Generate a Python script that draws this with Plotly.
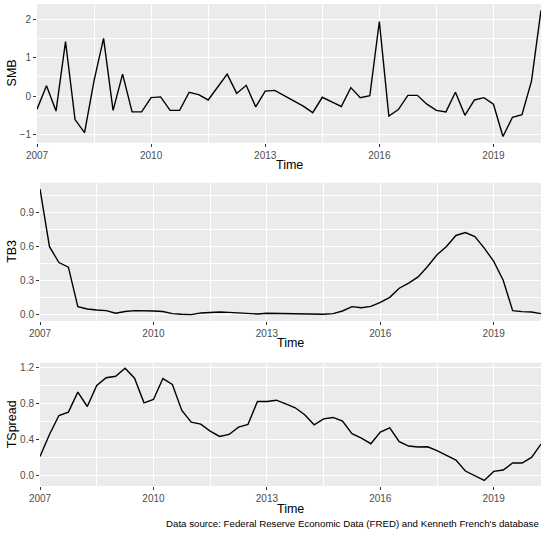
import plotly.graph_objects as go

# Quarterly series, 2007 Q1 to 2020 Q2
start_year = 2007
n_quarters = 54
time = [start_year + i / 4 for i in range(n_quarters)]

smb = [-0.34, 0.27, -0.39, 1.42, -0.61, -0.95, 0.40, 1.50, -0.37, 0.57,
       -0.41, -0.41, -0.04, -0.02, -0.37, -0.37, 0.10, 0.04, -0.10, 0.24,
       0.57, 0.07, 0.28, -0.28, 0.13, 0.15, 0.02, -0.13, -0.26, -0.43,
       -0.03, -0.15, -0.27, 0.22, -0.04, 0.01, 1.94, -0.52, -0.35, 0.02,
       0.02, -0.21, -0.37, -0.41, 0.10, -0.50, -0.10, -0.04, -0.21, -1.05,
       -0.55, -0.48, 0.39, 2.23]

tb3 = [1.105, 0.60, 0.46, 0.42, 0.073, 0.053, 0.044, 0.038, 0.015, 0.030,
       0.038, 0.038, 0.035, 0.030, 0.012, 0.006, 0.003, 0.018, 0.023, 0.026,
       0.023, 0.020, 0.012, 0.009, 0.015, 0.014, 0.012, 0.006, 0.006, 0.006,
       0.006, 0.012, 0.035, 0.073, 0.064, 0.076, 0.111, 0.155, 0.235, 0.279,
       0.334, 0.425, 0.528, 0.601, 0.698, 0.724, 0.689, 0.587, 0.470, 0.305,
       0.038, 0.029, 0.026, 0.012]

tspread = [0.215, 0.459, 0.670, 0.707, 0.930, 0.770, 1.004, 1.090, 1.107, 1.196,
           1.085, 0.811, 0.848, 1.081, 1.015, 0.726, 0.596, 0.574, 0.496, 0.437,
           0.459, 0.540, 0.570, 0.826, 0.826, 0.840, 0.800, 0.756, 0.678, 0.567,
           0.633, 0.648, 0.607, 0.467, 0.419, 0.356, 0.485, 0.533, 0.378, 0.330,
           0.319, 0.322, 0.278, 0.222, 0.174, 0.052, -0.004, -0.052, 0.048, 0.063,
           0.141, 0.141, 0.204, 0.352]

x_ticks = [2007, 2010, 2013, 2016, 2019]
x_minor = [2008.5, 2011.5, 2014.5, 2017.5]

# name, values, y ticks, y tick labels, y minor grid, y domain, x domain start, "Time" label y
panels = [
    ("SMB", smb, [-1, 0, 1, 2], ["\u22121", "0", "1", "2"], [-0.5, 0.5, 1.5], [0.712, 1.0], 0.0, 0.666),
    ("TB3", tb3, [0, 0.3, 0.6, 0.9], ["0.0", "0.3", "0.6", "0.9"], [0.15, 0.45, 0.75, 1.05], [0.3425, 0.629], 0.006, 0.297),
    ("TSpread", tspread, [0, 0.4, 0.8, 1.2], ["0.0", "0.4", "0.8", "1.2"], [0.2, 0.6, 1.0], [0.0, 0.256], 0.006, -0.048),
]

font = "Liberation Sans, Arial, sans-serif"
fig = go.Figure()
annotations = []

for i, (name, vals, yt, ytl, ym, ydom, xstart, time_y) in enumerate(panels, start=1):
    xa = "x" if i == 1 else f"x{i}"
    ya = "y" if i == 1 else f"y{i}"
    fig.add_trace(go.Scatter(x=time, y=vals, mode="lines", xaxis=xa, yaxis=ya,
                             line=dict(color="black", width=1.4), showlegend=False))

    lo, hi = min(vals), max(vals)
    pad = (hi - lo) * 0.05
    fig.update_layout(**{
        ("xaxis" if i == 1 else f"xaxis{i}"): dict(
            domain=[xstart, 1], anchor=ya, range=[time[0], time[-1]],
            tickvals=x_ticks, ticktext=[str(t) for t in x_ticks],
            ticks="outside", ticklen=3, tickcolor="#333333",
            tickfont=dict(size=10, color="#4D4D4D", family=font),
            showgrid=True, gridcolor="white", gridwidth=1.1, zeroline=False,
            minor=dict(tickvals=x_minor, showgrid=True, gridcolor="white", gridwidth=0.5, ticks=""),
        ),
        ("yaxis" if i == 1 else f"yaxis{i}"): dict(
            domain=ydom, anchor=xa, range=[lo - pad, hi + pad],
            tickvals=yt, ticktext=ytl,
            ticks="outside", ticklen=3, tickcolor="#333333",
            tickfont=dict(size=10, color="#4D4D4D", family=font),
            showgrid=True, gridcolor="white", gridwidth=1.1, zeroline=False,
            minor=dict(tickvals=ym, showgrid=True, gridcolor="white", gridwidth=0.5, ticks=""),
        ),
    })
    annotations.append(dict(text=name, xref="paper", yref="paper", x=-0.0496,
                            y=(ydom[0] + ydom[1]) / 2, textangle=-90, showarrow=False,
                            xanchor="center", yanchor="middle",
                            font=dict(size=12.5, color="black", family=font)))
    annotations.append(dict(text="Time", xref="paper", yref="paper", x=(1 + xstart) / 2,
                            y=time_y, showarrow=False, xanchor="center", yanchor="middle",
                            font=dict(size=12.5, color="black", family=font)))

annotations.append(dict(text="Data source: Federal Reserve Economic Data (FRED) and Kenneth French's database",
                        xref="paper", yref="paper", x=1, y=-0.078, xanchor="right", yanchor="middle",
                        showarrow=False, font=dict(size=9.7, color="black", family=font)))

fig.update_layout(
    width=550, height=534,
    margin=dict(l=37, r=9, t=4, b=48),
    paper_bgcolor="white", plot_bgcolor="#EBEBEB",
    font=dict(family=font),
    annotations=annotations,
)

fig.write_html("out.html", config={"displayModeBar": False},
               post_script="document.body.style.margin='0';")
